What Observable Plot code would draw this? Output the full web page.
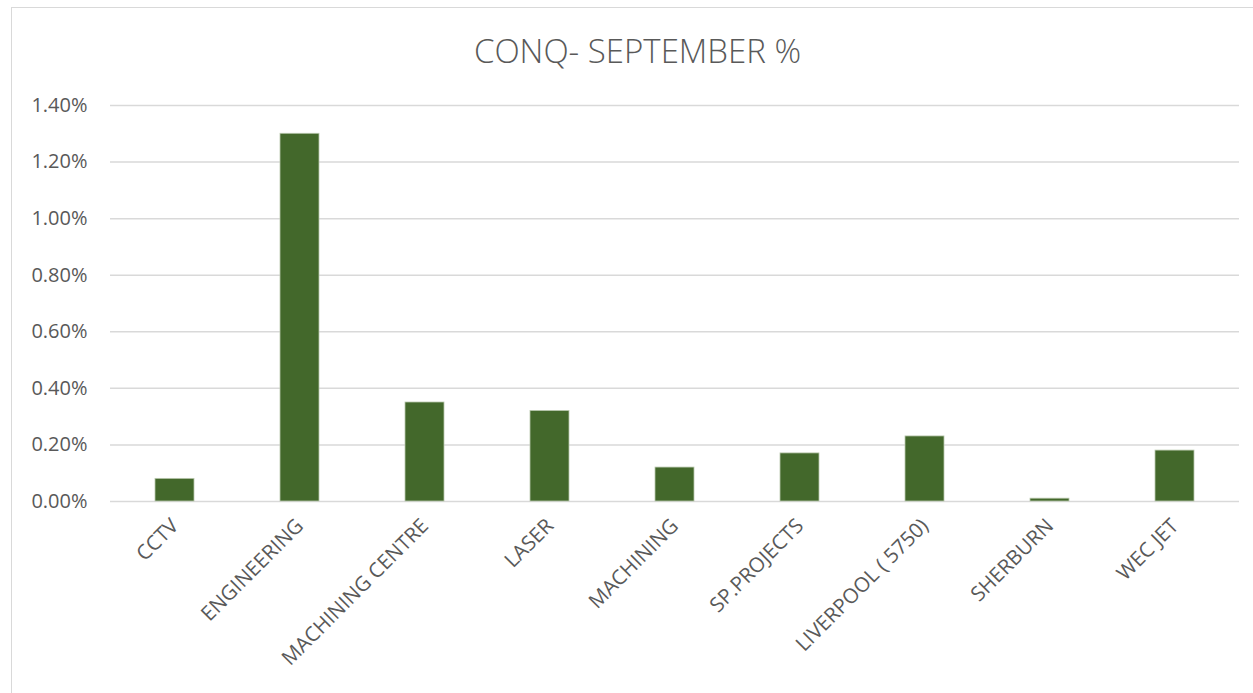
<!DOCTYPE html>
<html>
<head>
<meta charset="utf-8">
<script src="https://cdn.jsdelivr.net/npm/d3@7"></script>
<script src="https://cdn.jsdelivr.net/npm/@observablehq/plot@0.6"></script>
<style>
  html, body { margin: 0; padding: 0; background: #fff; }
  body { width: 1253px; height: 693px; position: relative; overflow: hidden; font-family: "Open Sans", sans-serif; }
  #frame { position: absolute; left: 11px; top: 7px; width: 1260px; height: 700px; border: 1px solid #d9d9d9; box-sizing: border-box; pointer-events: none; }
  #title { height: 90px; width: 1253px; text-align: center; color: #595959; font-size: 33px; line-height: 1; padding-top: 34px; padding-left: 22px; box-sizing: border-box; font-family: "Open Sans", sans-serif; font-weight: 300; }
  #chart svg { display: block; }
</style>
</head>
<body>
<div id="title">CONQ- SEPTEMBER %</div>
<div id="chart"></div>
<div id="frame"></div>
<script>
const categories = ["CCTV", "ENGINEERING", "MACHINING CENTRE", "LASER", "MACHINING", "SP.PROJECTS", "LIVERPOOL ( 5750)", "SHERBURN", "WEC JET"];
const values = [0.0008, 0.0130, 0.0035, 0.0032, 0.0012, 0.0017, 0.0023, 0.0001, 0.0018];
const yTicks = [0, 0.002, 0.004, 0.006, 0.008, 0.010, 0.012, 0.014];

const data = categories.map((c, i) => ({category: c, value: values[i]}));

const plot = Plot.plot({
  width: 1253,
  height: 603,
  marginTop: 15,
  marginBottom: 192,
  marginLeft: 110,
  marginRight: 14,
  style: {fontFamily: "Open Sans, sans-serif", fontSize: "20px", color: "#595959", background: "transparent"},
  x: {domain: categories, paddingInner: 0.686, paddingOuter: 0.343, label: null},
  y: {domain: [0, 0.014], label: null},
  marks: [
    Plot.gridY(yTicks, {stroke: "#d9d9d9", strokeOpacity: 1, strokeWidth: 1.5}),
    Plot.barY(data, {x: "category", y: "value", fill: "#43682b", stroke: "#b9c8ae", strokeWidth: 0.8}),
    Plot.axisY({ticks: yTicks, tickFormat: d3.format(".2%"), tickSize: 0, tickPadding: 23, fontSize: 20, fill: "#595959"}),
    Plot.axisX({tickRotate: -45, tickSize: 0, tickPadding: 21, fontSize: 20.5, fill: "#595959"})
  ]
});
document.getElementById("chart").appendChild(plot);
</script>
</body>
</html>
